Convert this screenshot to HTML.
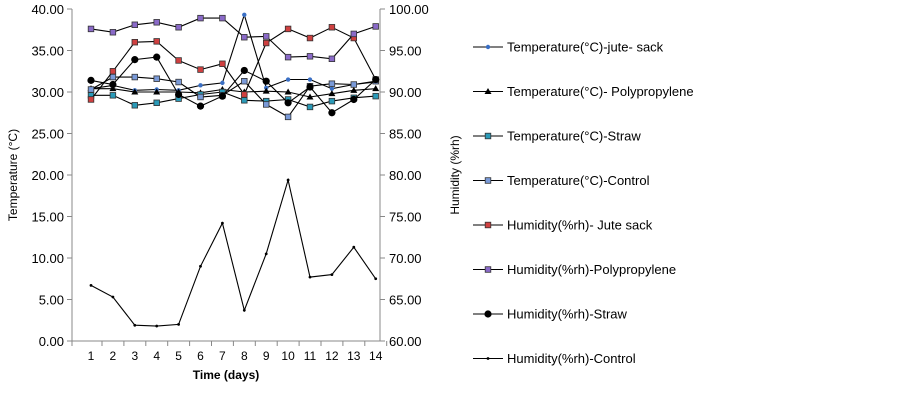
<!DOCTYPE html>
<html><head><meta charset="utf-8"><style>
html,body{margin:0;padding:0;background:#fff;width:900px;height:401px;overflow:hidden}
svg{display:block;font-family:"Liberation Sans",sans-serif}
</style></head><body>
<svg id="c" width="900" height="401" xmlns="http://www.w3.org/2000/svg"></svg>
<script>
const s=document.getElementById('c');let h='';
const X=d=>91+(d-1)*21.9, YL=v=>341-v*8.3, YR=v=>341-(v-60)*8.3;
h+='<line x1="72" y1="9" x2="72" y2="341" stroke="#888"/><line x1="380" y1="9" x2="380" y2="341" stroke="#888"/><line x1="72" y1="341" x2="380" y2="341" stroke="#888"/>';
for(let i=0;i<=8;i++){const y=341-i*41.5;
h+=`<line x1="67" y1="${y}" x2="72" y2="${y}" stroke="#888"/><line x1="380" y1="${y}" x2="385" y2="${y}" stroke="#888"/>`;
h+=`<text x="64" y="${y+5}" font-size="13" text-anchor="end">${(i*5).toFixed(2)}</text>`;
h+=`<text x="389" y="${y+5}" font-size="13">${(60+i*5).toFixed(2)}</text>`;}
for(let d=1;d<=14;d++){const x=X(d);h+=`<line x1="${x+11}" y1="341" x2="${x+11}" y2="346" stroke="#888"/><text x="${x}" y="360" font-size="12" text-anchor="middle">${d}</text>`;}
h+='<line x1="72" y1="341" x2="72" y2="346" stroke="#888"/>';
h+='<text x="226" y="379" font-size="12" font-weight="bold" text-anchor="middle">Time (days)</text>';
h+='<text transform="translate(17,175) rotate(-90)" font-size="12" text-anchor="middle">Temperature (°C)</text>';
h+='<text transform="translate(459,175) rotate(-90)" font-size="12" text-anchor="middle">Humidity  (%rh)</text>';
const S=[
["Temperature(°C)-jute- sack",0,"dia","#3a6fc4",[30.4,30.8,30.2,30.3,30.2,30.8,31.1,39.3,30.5,31.5,31.5,30.4,30.9,31.2]],
["Temperature(°C)- Polypropylene",0,"tri","#000",[30.4,30.4,30.0,30.0,30.0,29.9,30.3,30.0,30.1,30.0,29.4,29.8,30.2,30.4]],
["Temperature(°C)-Straw",0,"sq","#2a9ab8",[29.6,29.6,28.4,28.7,29.2,29.7,30.0,29.0,28.9,29.1,28.2,28.9,29.3,29.5]],
["Temperature(°C)-Control",0,"sq","#7a9ad8",[30.3,31.8,31.8,31.6,31.2,29.4,29.6,31.3,28.5,27.0,30.7,31.0,30.9,31.3]],
["Humidity(%rh)- Jute sack",1,"sq","#d04040",[89.1,92.5,96.0,96.1,93.8,92.7,93.4,89.7,95.9,97.6,96.5,97.8,96.5,91.5]],
["Humidity(%rh)-Polypropylene",1,"sq","#8a6ac8",[97.6,97.2,98.1,98.4,97.8,98.9,98.9,96.6,96.7,94.2,94.3,94.0,97.0,97.9]],
["Humidity(%rh)-Straw",1,"dot","#000",[91.4,90.9,93.9,94.2,89.7,88.3,89.5,92.6,91.3,88.7,90.6,87.5,89.1,91.5]],
["Humidity(%rh)-Control",1,"sm","#000",[66.7,65.3,61.9,61.8,62.0,69.0,74.2,63.7,70.5,79.4,67.7,68.0,71.3,67.5]]];
function mk(t,c,x,y){
 if(t=="dia")return `<circle cx="${x}" cy="${y}" r="2.2" fill="${c}"/>`;
 if(t=="tri")return `<polygon points="${x},${y-3.5} ${x-3.5},${y+2.5} ${x+3.5},${y+2.5}" fill="#000"/>`;
 if(t=="sq")return `<rect x="${x-2.8}" y="${y-2.8}" width="5.6" height="5.6" fill="${c}" stroke="#333" stroke-width="0.8"/>`;
 if(t=="dot")return `<circle cx="${x}" cy="${y}" r="3.6" fill="#000"/>`;
 return `<circle cx="${x}" cy="${y}" r="1.4" fill="#000"/>`;}
S.forEach((r,i)=>{const f=r[1]?YR:YL;const p=r[4].map((v,j)=>X(j+1).toFixed(1)+','+f(v).toFixed(1));
h+=`<polyline points="${p.join(' ')}" fill="none" stroke="#000" stroke-width="1.1"/>`;
r[4].forEach((v,j)=>h+=mk(r[2],r[3],X(j+1),f(v)));
const ly=47+i*44.5;h+=`<line x1="473" y1="${ly}" x2="503" y2="${ly}" stroke="#000" stroke-width="1.1"/>`+mk(r[2],r[3],488,ly);
h+=`<text x="507" y="${ly+4.5}" font-size="13">${r[0]}</text>`;});
s.innerHTML=h;
</script>
</body></html>
